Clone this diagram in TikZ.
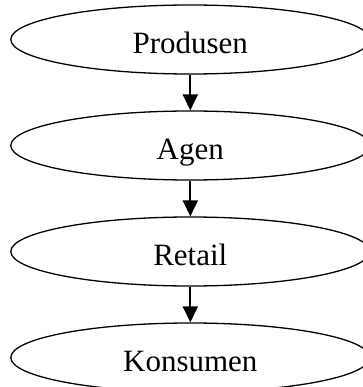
\documentclass[tikz,border=0pt]{standalone}
\usepackage{fontspec}
\setmainfont{Liberation Serif}
\usetikzlibrary{shapes,arrows.meta,positioning}

\begin{document}
\begin{tikzpicture}[node distance=106pt, >={Triangle[length=16pt,width=15pt]},
    stage/.style={draw, ellipse, line width=1.3pt, minimum width=359pt, minimum height=69pt, text height=28pt, text depth=0pt, font=\fontsize{31}{36}\selectfont},
    flow/.style={->, line width=2pt}]
    \useasboundingbox (0pt,0pt) rectangle (362pt,-387pt);
    \node (produsen) [stage] at (190.3pt,-39.5pt) {Produsen};
    \node (agen) [stage, below of=produsen] {Agen};
    \node (retail) [stage, below of=agen] {Retail};
    \node (konsumen) [stage, below of=retail] {Konsumen};

    \draw [flow] (produsen) -- (agen);
    \draw [flow] (agen) -- (retail);
    \draw [flow] (retail) -- (konsumen);
\end{tikzpicture}
\end{document}
